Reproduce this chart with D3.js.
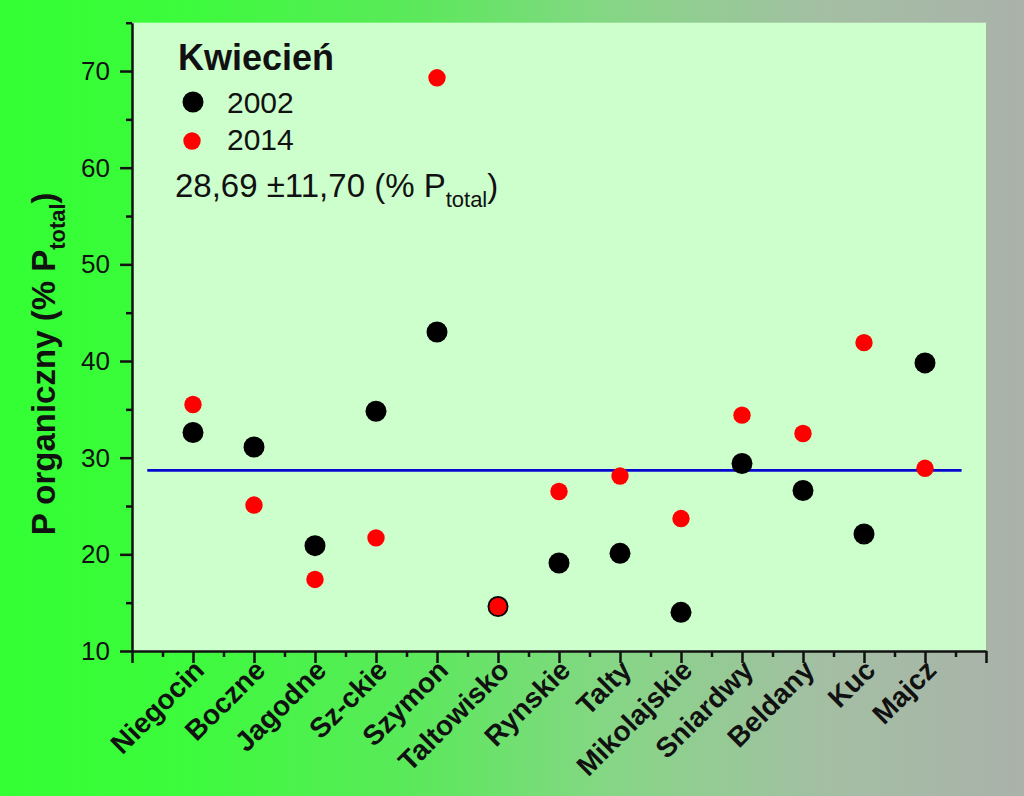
<!DOCTYPE html>
<html>
<head>
<meta charset="utf-8">
<script src="https://cdn.jsdelivr.net/npm/d3@7"></script>
<style>
  html, body { margin: 0; padding: 0; }
  body { width: 1024px; height: 796px; overflow: hidden; }
  text { font-family: "Liberation Sans", Arial, sans-serif; }
</style>
</head>
<body>
<svg id="chart" width="1024" height="796"></svg>
<script>
// ---- data ----
const categories = ["Niegocin","Boczne","Jagodne","Sz-ckie","Szymon","Taltowisko","Rynskie","Talty","Mikolajskie","Sniardwy","Beldany","Kuc","Majcz"];
const values2002 = [32.6, 31.1, 20.9, 34.8, 43.0, 14.6, 19.1, 20.1, 14.0, 29.4, 26.6, 22.1, 39.8];
const values2014 = [35.5, 25.1, 17.4, 21.7, 69.3, 14.6, 26.5, 28.1, 23.7, 34.4, 32.5, 41.9, 28.9];
const yTicks = [10, 20, 30, 40, 50, 60, 70];
const yMinorTicks = [15, 25, 35, 45, 55, 65, 75];
const meanValue = 28.69;
const sdValue = 11.70;
const meanSpan = [0.25, 13.6];
const legendTitle = "Kwiecień";
const seriesNames = ["2002", "2014"];

// ---- layout ----
const svg = d3.select("#chart");
const W = 1024, H = 796;
const plot = { left: 132, right: 986, top: 22.7, bottom: 651 };

const x = d3.scaleLinear().domain([0, 14]).range([plot.left, plot.right]);
const y = d3.scaleLinear().domain([10, 75]).range([plot.bottom, plot.top]);

// background gradient
const defs = svg.append("defs");
const grad = defs.append("linearGradient").attr("id", "bg").attr("x1", 0).attr("x2", 1).attr("y1", 0).attr("y2", 0);
[[0, "#33ff33"], [0.18, "#3cfb3c"], [0.4, "#5ae95a"], [0.6, "#86d686"], [0.8, "#a3bfa3"], [1, "#aab2aa"]]
  .forEach(([o, c]) => grad.append("stop").attr("offset", o).attr("stop-color", c));
svg.append("rect").attr("width", W).attr("height", H).attr("fill", "url(#bg)");

// plot area
svg.append("rect")
  .attr("x", plot.left).attr("y", plot.top)
  .attr("width", plot.right - plot.left).attr("height", plot.bottom - plot.top)
  .attr("fill", "#ccffcc");

// mean line
svg.append("line")
  .attr("x1", x(meanSpan[0])).attr("x2", x(meanSpan[1]))
  .attr("y1", y(meanValue)).attr("y2", y(meanValue))
  .attr("stroke", "#0808d0").attr("stroke-width", 2.6);

// axes
const axisColor = "#111";
const yAxis = d3.axisLeft(y).tickValues(yTicks).tickSize(12).tickSizeOuter(0).tickPadding(10).tickFormat(d3.format("d"));
const gy = svg.append("g").attr("transform", `translate(${plot.left},0)`).call(yAxis);
gy.select(".domain").attr("stroke", axisColor).attr("stroke-width", 2.5);
gy.selectAll(".tick line").attr("stroke", axisColor).attr("stroke-width", 2.5);
gy.selectAll(".tick text").attr("font-size", 26).attr("fill", "#111")
  .style("font-family", "'Liberation Sans', Arial, sans-serif");
const yAxisMinor = d3.axisLeft(y).tickValues(yMinorTicks).tickSize(6).tickSizeOuter(0).tickFormat("");
const gym = svg.append("g").attr("transform", `translate(${plot.left},0)`).call(yAxisMinor);
gym.select(".domain").remove();
gym.selectAll(".tick line").attr("stroke", axisColor).attr("stroke-width", 2.5);

const xMajor = d3.range(0, 15);
const xMinor = d3.range(0.5, 14, 1);
const xAxis = d3.axisBottom(x).tickValues(xMajor).tickSize(12).tickSizeOuter(0).tickFormat("");
const gx = svg.append("g").attr("transform", `translate(0,${plot.bottom})`).call(xAxis);
gx.select(".domain").attr("stroke", axisColor).attr("stroke-width", 2.5);
gx.selectAll(".tick line").attr("stroke", axisColor).attr("stroke-width", 2.5);
const xAxisMinor = d3.axisBottom(x).tickValues(xMinor).tickSize(6).tickSizeOuter(0).tickFormat("");
const gxm = svg.append("g").attr("transform", `translate(0,${plot.bottom})`).call(xAxisMinor);
gxm.select(".domain").remove();
gxm.selectAll(".tick line").attr("stroke", axisColor).attr("stroke-width", 2.5);

// category labels
svg.append("g").selectAll("text").data(categories).join("text")
  .attr("transform", (d, i) => `translate(${x(i + 1) + 6},${plot.bottom + 14}) rotate(-45)`)
  .attr("text-anchor", "end")
  .attr("dy", "0.35em")
  .attr("font-size", 28)
  .attr("font-weight", "bold")
  .attr("fill", "#111")
  .text(d => d);

// y label
const yl = svg.append("text")
  .attr("transform", `translate(55,${(plot.top + plot.bottom) / 2 + 27}) rotate(-90)`)
  .attr("text-anchor", "middle")
  .attr("font-size", 33)
  .attr("font-weight", "bold")
  .attr("fill", "#111");
yl.append("tspan").text("P organiczny (% P");
yl.append("tspan").attr("font-size", 22).attr("dy", 10).text("total");
yl.append("tspan").attr("dy", -10).text(")");

// points
const pts = categories.map((c, i) => ({ c, i, a: values2002[i], b: values2014[i] }));
svg.append("g").selectAll("circle").data(pts).join("circle")
  .attr("cx", d => x(d.i + 1)).attr("cy", d => y(d.a)).attr("r", 10.5)
  .attr("fill", "#000");
svg.append("g").selectAll("circle").data(pts).join("circle")
  .attr("cx", d => x(d.i + 1)).attr("cy", d => y(d.b)).attr("r", 8.7)
  .attr("fill", "#ff0000");

// legend
const lg = svg.append("g");
lg.append("text").attr("x", 178).attr("y", 70).attr("font-size", 36).attr("font-weight", "bold").attr("fill", "#111").text(legendTitle);
lg.append("circle").attr("cx", 193).attr("cy", 102).attr("r", 10.5).attr("fill", "#000");
lg.append("text").attr("x", 227).attr("y", 113).attr("font-size", 30).attr("fill", "#111").text(seriesNames[0]);
lg.append("circle").attr("cx", 192).attr("cy", 141).attr("r", 8.7).attr("fill", "#ff0000");
lg.append("text").attr("x", 227).attr("y", 150).attr("font-size", 30).attr("fill", "#111").text(seriesNames[1]);
const st = lg.append("text").attr("x", 175).attr("y", 197).attr("font-size", 33).attr("fill", "#111");
st.append("tspan").text(`${d3.format(".2f")(meanValue).replace(".", ",")} ±${d3.format(".2f")(sdValue).replace(".", ",")} (% P`);
st.append("tspan").attr("font-size", 22).attr("dy", 10).text("total");
st.append("tspan").attr("dy", -10).text(")");
</script>
</body>
</html>
